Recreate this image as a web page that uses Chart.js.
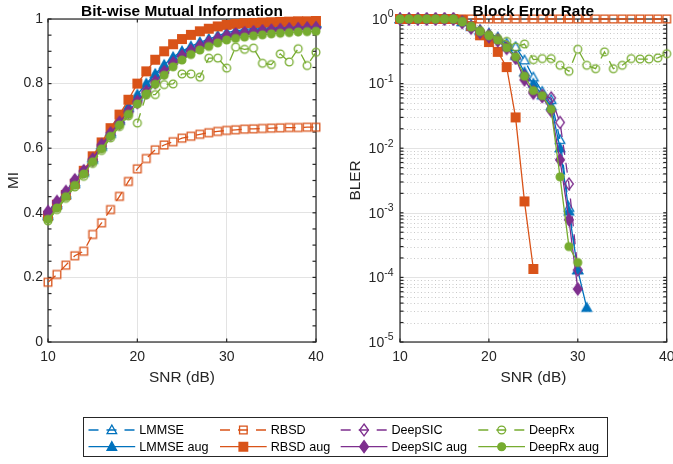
<!DOCTYPE html>
<html>
<head>
<meta charset="utf-8">
<script src="https://cdn.jsdelivr.net/npm/chart.js@4.4.0/dist/chart.umd.min.js"></script>
<style>
  body { margin: 0; background: #fff; }
  #wrap { position: relative; width: 673px; height: 464px; overflow: hidden; }
  #wrap canvas { position: absolute; }
</style>
</head>
<body>
<div id="wrap">
  <canvas id="miChart" width="340" height="400" style="left:0;top:0"></canvas>
  <canvas id="blerChart" width="333" height="400" style="left:340px;top:0"></canvas>
  <canvas id="legendBox" width="525" height="40" style="left:83px;top:417px"></canvas>
</div>
<script>
// SNR axis (dB)
const snr = [10, 11, 12, 13, 14, 15, 16, 17, 18, 19, 20, 21, 22, 23, 24, 25, 26, 27, 28, 29, 30, 31, 32, 33, 34, 35, 36, 37, 38, 39, 40];

// Bit-wise mutual information
const miLmmse      = [0.39, 0.425, 0.455, 0.49, 0.525, 0.565, 0.605, 0.645, 0.685, 0.725, 0.76, 0.795, 0.825, 0.853, 0.877, 0.896, 0.911, 0.924, 0.934, 0.943, 0.952, 0.958, 0.963, 0.967, 0.971, 0.974, 0.977, 0.979, 0.981, 0.983, 0.985];
const miLmmseAug   = [0.395, 0.43, 0.46, 0.495, 0.53, 0.57, 0.61, 0.65, 0.69, 0.73, 0.766, 0.8, 0.83, 0.858, 0.882, 0.9, 0.915, 0.928, 0.938, 0.948, 0.958, 0.963, 0.967, 0.971, 0.975, 0.978, 0.981, 0.983, 0.985, 0.987, 0.988];
const miRbsd       = [0.185, 0.209, 0.238, 0.267, 0.281, 0.333, 0.369, 0.41, 0.451, 0.497, 0.536, 0.568, 0.595, 0.61, 0.62, 0.631, 0.637, 0.643, 0.648, 0.652, 0.655, 0.657, 0.659, 0.66, 0.661, 0.662, 0.663, 0.664, 0.664, 0.665, 0.665];
const miRbsdAug    = [0.39, 0.425, 0.455, 0.49, 0.53, 0.575, 0.618, 0.662, 0.704, 0.75, 0.8, 0.838, 0.874, 0.9, 0.922, 0.938, 0.951, 0.962, 0.97, 0.977, 0.982, 0.985, 0.987, 0.988, 0.989, 0.99, 0.991, 0.992, 0.993, 0.993, 0.994];
const miDeepSic    = [0.398, 0.43, 0.462, 0.497, 0.527, 0.562, 0.606, 0.642, 0.676, 0.71, 0.741, 0.772, 0.803, 0.833, 0.861, 0.883, 0.9, 0.914, 0.926, 0.937, 0.946, 0.951, 0.955, 0.958, 0.961, 0.963, 0.965, 0.967, 0.968, 0.97, 0.971];
const miDeepSicAug = [0.404, 0.435, 0.466, 0.502, 0.53, 0.566, 0.611, 0.647, 0.68, 0.714, 0.745, 0.776, 0.807, 0.837, 0.864, 0.886, 0.902, 0.916, 0.928, 0.939, 0.948, 0.953, 0.957, 0.96, 0.963, 0.965, 0.967, 0.969, 0.97, 0.972, 0.973];
const miDeepRx     = [0.375, 0.41, 0.445, 0.48, 0.513, 0.553, 0.593, 0.632, 0.667, 0.7, 0.678, 0.765, 0.766, 0.797, 0.799, 0.83, 0.83, 0.82, 0.879, 0.879, 0.848, 0.913, 0.906, 0.91, 0.863, 0.859, 0.892, 0.867, 0.908, 0.856, 0.897];
const miDeepRxAug  = [0.38, 0.415, 0.45, 0.485, 0.52, 0.558, 0.598, 0.637, 0.672, 0.705, 0.737, 0.768, 0.798, 0.826, 0.852, 0.873, 0.89, 0.904, 0.915, 0.926, 0.935, 0.94, 0.944, 0.948, 0.951, 0.954, 0.956, 0.958, 0.96, 0.961, 0.962];

// Block error rate (null = no errors measured)
const blerLmmse      = [1, 1, 1, 1, 1, 1, 1, 0.92, 0.8, 0.68, 0.6, 0.52, 0.42, 0.37, 0.23, 0.125, 0.075, 0.056, 0.0135, 0.0012, 0.00013, null, null, null, null, null, null, null, null, null, null];
const blerLmmseAug   = [1, 1, 1, 1, 1, 1, 1, 0.9, 0.76, 0.65, 0.56, 0.49, 0.37, 0.27, 0.15, 0.1, 0.066, 0.045, 0.01, 0.00105, 0.00013, 0.000034, null, null, null, null, null, null, null, null, null];
const blerRbsd       = [1, 1, 1, 1, 1, 1, 1, 1, 1, 1, 1, 1, 1, 1, 1, 1, 1, 1, 1, 1, 1, 1, 1, 1, 1, 1, 1, 1, 1, 1, 1];
const blerRbsdAug    = [1, 1, 1, 1, 1, 1, 1, 0.97, 0.78, 0.56, 0.44, 0.31, 0.18, 0.03, 0.0015, 0.000135, null, null, null, null, null, null, null, null, null, null, null, null, null, null, null];
const blerDeepSic    = [1, 1, 1, 1, 1, 1, 1, 0.9, 0.76, 0.64, 0.56, 0.48, 0.37, 0.25, 0.13, 0.075, 0.065, 0.06, 0.025, 0.0028, 0.00013, null, null, null, null, null, null, null, null, null, null];
const blerDeepSicAug = [1, 1, 1, 1, 1, 1, 1, 0.88, 0.72, 0.62, 0.53, 0.46, 0.35, 0.25, 0.114, 0.071, 0.063, 0.038, 0.0066, 0.00078, 0.000066, null, null, null, null, null, null, null, null, null, null];
const blerDeepRx     = [1, 1, 1, 1, 1, 1, 1, 0.92, 0.78, 0.66, 0.57, 0.5, 0.45, 0.37, 0.41, 0.235, 0.244, 0.244, 0.192, 0.155, 0.34, 0.192, 0.17, 0.31, 0.17, 0.192, 0.244, 0.24, 0.24, 0.25, 0.29];
const blerDeepRxAug  = [1, 1, 1, 1, 1, 1, 1, 0.9, 0.75, 0.64, 0.55, 0.47, 0.36, 0.26, 0.13, 0.078, 0.065, 0.04, 0.0036, 0.0003, 0.00017, null, null, null, null, null, null, null, null, null, null];

// Tick labels
const snrTicks = [10, 20, 30, 40];
const miTicks = [0, 0.2, 0.4, 0.6, 0.8, 1];
const blerExponents = [-5, -4, -3, -2, -1, 0];

const seriesNames = ['LMMSE', 'LMMSE aug', 'RBSD', 'RBSD aug', 'DeepSIC', 'DeepSIC aug', 'DeepRx', 'DeepRx aug'];

const BLUE = '#0072BD', ORANGE = '#D95319', PURPLE = '#7E2F8E', GREEN = '#77AC30';
const AX = '#262626';
const FONT = '"Liberation Sans", Arial, Helvetica, sans-serif';

// style per series, same order as seriesNames
const styles = [
  { color: BLUE, shape: 'tri', filled: false, dashed: true },
  { color: BLUE, shape: 'tri', filled: true, dashed: false },
  { color: ORANGE, shape: 'sq', filled: false, dashed: true },
  { color: ORANGE, shape: 'sq', filled: true, dashed: false },
  { color: PURPLE, shape: 'dia', filled: false, dashed: true },
  { color: PURPLE, shape: 'dia', filled: true, dashed: false },
  { color: GREEN, shape: 'circ', filled: false, dashed: true },
  { color: GREEN, shape: 'circ', filled: true, dashed: false }
];
const DASH = [10, 8];

function drawShape(g, shape, x, y, color, filled) {
  g.beginPath();
  if (shape === 'tri') {
    g.moveTo(x, y - 5); g.lineTo(x + 4.8, y + 3.6); g.lineTo(x - 4.8, y + 3.6); g.closePath();
  } else if (shape === 'sq') {
    const h = filled ? 4.3 : 3.8;
    g.rect(x - h, y - h, 2 * h, 2 * h);
  } else if (shape === 'dia') {
    g.moveTo(x, y - 6); g.lineTo(x + 4.4, y); g.lineTo(x, y + 6); g.lineTo(x - 4.4, y); g.closePath();
  } else {
    g.arc(x, y, 3.9, 0, Math.PI * 2);
  }
  if (filled) { g.fillStyle = color; g.fill(); }
  g.lineWidth = 1.3;
  g.strokeStyle = color;
  g.stroke();
}

function markerCanvas(st) {
  const c = document.createElement('canvas');
  c.width = 16; c.height = 16;
  drawShape(c.getContext('2d'), st.shape, 8, 8, st.color, st.filled);
  return c;
}

function buildDatasets(seriesList) {
  return seriesList.map((vals, i) => {
    const st = styles[i];
    return {
      label: seriesNames[i],
      data: snr.map((x, k) => ({ x: x, y: vals[k] })),
      borderColor: st.color,
      backgroundColor: st.color,
      borderWidth: 1.3,
      borderDash: st.dashed ? DASH : [],
      pointStyle: markerCanvas(st),
      pointRadius: 5,
      pointHoverRadius: 5,
      tension: 0,
      spanGaps: false,
      clip: 12,
      order: 8 - i
    };
  });
}

function strokeLine(ctx, x1, y1, x2, y2) {
  ctx.beginPath(); ctx.moveTo(x1, y1); ctx.lineTo(x2, y2); ctx.stroke();
}

// MATLAB-like axes: box, inward ticks, title, labels
function decorPlugin(cfg) {
  return {
    id: 'decor',
    beforeDatasetsDraw(chart) {
      const { ctx, chartArea: a, scales } = chart;
      const xs = scales.x, ys = scales.y;
      ctx.save();
      if (cfg.minorGrid) {
        ctx.strokeStyle = '#c9c9c9'; ctx.lineWidth = 1; ctx.setLineDash([1, 2.5]);
        cfg.minorGrid.forEach(v => {
          const py = Math.round(ys.getPixelForValue(v)) + 0.5;
          strokeLine(ctx, a.left, py, a.right, py);
        });
        ctx.setLineDash([]);
      }
      if (cfg.majorGrid) {
        ctx.strokeStyle = '#e3e3e3'; ctx.lineWidth = 1;
        cfg.majorGrid.forEach(v => {
          const py = Math.round(ys.getPixelForValue(v)) + 0.5;
          strokeLine(ctx, a.left, py, a.right, py);
        });
      }
      ctx.strokeStyle = AX; ctx.lineWidth = 1.2;
      ctx.strokeRect(a.left, a.top, a.right - a.left, a.bottom - a.top);
      const tl = 3.5;
      snrTicks.forEach(v => {
        const px = xs.getPixelForValue(v);
        strokeLine(ctx, px, a.bottom, px, a.bottom - tl);
        strokeLine(ctx, px, a.top, px, a.top + tl);
      });
      cfg.yTicks.forEach(v => {
        const py = ys.getPixelForValue(v);
        strokeLine(ctx, a.left, py, a.left + tl, py);
        strokeLine(ctx, a.right, py, a.right - tl, py);
      });
      ctx.restore();
    },
    afterDraw(chart) {
      const { ctx, chartArea: a, scales } = chart;
      const cx = (a.left + a.right) / 2;
      ctx.save();
      ctx.fillStyle = '#000';
      ctx.font = 'bold 15.4px ' + FONT;
      ctx.textAlign = 'center'; ctx.textBaseline = 'alphabetic';
      ctx.fillText(cfg.title, cx, 15.5);
      ctx.fillStyle = AX;
      ctx.font = '15.4px ' + FONT;
      ctx.textBaseline = 'middle';
      ctx.fillText('SNR (dB)', cx, 378);
      ctx.save();
      ctx.translate(cfg.yLabelX, (a.top + a.bottom) / 2);
      ctx.rotate(-Math.PI / 2);
      ctx.fillText(cfg.yLabel, 0, 0);
      ctx.restore();
      if (cfg.logLabels) {
        const ys = scales.y;
        cfg.logLabels.forEach(e => {
          const py = ys.getPixelForValue(Math.pow(10, e));
          const ex = String(e);
          ctx.font = '10.5px ' + FONT;
          const ew = ctx.measureText(ex).width;
          const bx = a.left - 6.5 - ew;
          ctx.textAlign = 'left';
          ctx.fillText(ex, bx, py - 4.5);
          ctx.font = '14px ' + FONT;
          ctx.textAlign = 'right';
          ctx.fillText('10', bx, py + 1);
        });
      }
      ctx.restore();
    }
  };
}

const tickFont = { family: FONT, size: 14 };

function xScale() {
  return {
    type: 'linear', min: 10, max: 40,
    afterBuildTicks: s => { s.ticks = snrTicks.map(v => ({ value: v })); },
    ticks: { font: tickFont, color: AX, padding: 7, maxRotation: 0, autoSkip: false },
    grid: { color: '#e3e3e3', drawTicks: false, lineWidth: 1 },
    border: { display: false },
    afterFit: s => { s.height = 58; s.paddingLeft = 0; s.paddingRight = 0; }
  };
}

// left: mutual information
const miMinor = [];
for (let k = 0; k <= 20; k++) miMinor.push(k * 0.05);

new Chart(document.getElementById('miChart'), {
  type: 'line',
  data: { datasets: buildDatasets([miLmmse, miLmmseAug, miRbsd, miRbsdAug, miDeepSic, miDeepSicAug, miDeepRx, miDeepRxAug]) },
  options: {
    responsive: false, animation: false, devicePixelRatio: 1,
    layout: { padding: { top: 19, right: 24, left: 0, bottom: 0 } },
    plugins: { legend: { display: false }, tooltip: { enabled: false } },
    scales: {
      x: xScale(),
      y: {
        type: 'linear', min: 0, max: 1,
        afterBuildTicks: s => { s.ticks = miTicks.map(v => ({ value: v })); },
        ticks: { font: tickFont, color: AX, padding: 5, callback: v => String(v) },
        grid: { color: '#e3e3e3', drawTicks: false, lineWidth: 1 },
        border: { display: false },
        afterFit: s => { s.width = 48; s.paddingTop = 0; s.paddingBottom = 0; }
      }
    }
  },
  plugins: [decorPlugin({ title: 'Bit-wise Mutual Information', yLabel: 'MI', yLabelX: 13.5, yTicks: miMinor })]
});

// right: block error rate
const decades = blerExponents.map(e => Math.pow(10, e));
const blerMinor = [];
for (let e = -5; e < 0; e++) for (let m = 2; m <= 9; m++) blerMinor.push(m * Math.pow(10, e));

new Chart(document.getElementById('blerChart'), {
  type: 'line',
  data: { datasets: buildDatasets([blerLmmse, blerLmmseAug, blerRbsd, blerRbsdAug, blerDeepSic, blerDeepSicAug, blerDeepRx, blerDeepRxAug]) },
  options: {
    responsive: false, animation: false, devicePixelRatio: 1,
    layout: { padding: { top: 19, right: 6.3, left: 0, bottom: 0 } },
    plugins: { legend: { display: false }, tooltip: { enabled: false } },
    scales: {
      x: xScale(),
      y: {
        type: 'logarithmic', min: 1e-5, max: 1,
        ticks: { display: false },
        grid: { display: false },
        border: { display: false },
        afterFit: s => { s.width = 60; s.paddingTop = 0; s.paddingBottom = 0; }
      }
    }
  },
  plugins: [decorPlugin({
    title: 'Block Error Rate', yLabel: 'BLER', yLabelX: 15.3,
    yTicks: decades.concat(blerMinor), minorGrid: blerMinor, majorGrid: decades,
    logLabels: blerExponents
  })]
});

// legend (4 columns x 2 rows)
(function drawLegend() {
  const c = document.getElementById('legendBox');
  const g = c.getContext('2d');
  g.strokeStyle = AX; g.lineWidth = 1;
  g.strokeRect(0.5, 0.5, c.width - 1, c.height - 1);
  const colX = [5.5, 137, 257.7, 395.3];
  const rowY = [13, 29.7];
  const len = 46.7;
  seriesNames.forEach((name, i) => {
    const st = styles[i];
    const x0 = colX[Math.floor(i / 2)], y = rowY[i % 2];
    g.save();
    g.strokeStyle = st.color; g.lineWidth = 1.3;
    g.setLineDash(st.dashed ? DASH : []);
    strokeLine(g, x0, y, x0 + len, y);
    g.restore();
    drawShape(g, st.shape, x0 + len / 2, y, st.color, st.filled);
    g.fillStyle = '#000';
    g.font = '12.6px ' + FONT;
    g.textAlign = 'left'; g.textBaseline = 'middle';
    g.fillText(name, x0 + len + 4, y + 0.5);
  });
})();
</script>
</body>
</html>
